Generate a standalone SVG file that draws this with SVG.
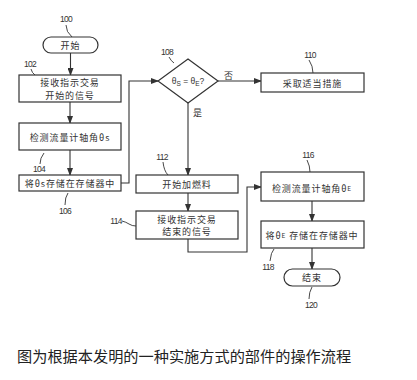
<svg xmlns="http://www.w3.org/2000/svg" width="417" height="380" viewBox="0 0 417 380">
<style>
.b{fill:#fff;stroke:#333;stroke-width:1.2}
.c{fill:none;stroke:#333;stroke-width:1.1}
.l{fill:none;stroke:#333;stroke-width:0.9}
.t{font-family:"Noto Sans CJK SC","Liberation Sans",sans-serif;font-size:9px;letter-spacing:0.9px;fill:#333;text-anchor:middle;dominant-baseline:central}
.n{font-family:"Liberation Sans",sans-serif;font-size:8.5px;letter-spacing:-0.7px;fill:#333;text-anchor:middle;dominant-baseline:central}
.cap{font-family:"Noto Sans CJK SC",sans-serif;font-size:15.2px;fill:#222;dominant-baseline:central}
</style>
<defs>
<marker id="a" markerWidth="8" markerHeight="6" refX="7" refY="3" orient="auto" markerUnits="userSpaceOnUse">
<path d="M0,0 L8,3 L0,6 z" fill="#333"/>
</marker>
</defs>
<rect width="417" height="380" fill="#fff"/>
<g id="connectors">
<path class="c" d="M70.5,53 V75" marker-end="url(#a)"/>
<path class="c" d="M70,102 V123" marker-end="url(#a)"/>
<path class="c" d="M70,150 V175" marker-end="url(#a)"/>
<path class="c" d="M121,183 H129 V81 H158" marker-end="url(#a)"/>
<path class="c" d="M218,81 H261" marker-end="url(#a)"/>
<path class="c" d="M188,103 V175" marker-end="url(#a)"/>
<path class="c" d="M188,193 V211" marker-end="url(#a)"/>
<path class="c" d="M188,239 V252 H247 V187 H261" marker-end="url(#a)"/>
<path class="c" d="M312,201 V221" marker-end="url(#a)"/>
<path class="c" d="M312,248 V269" marker-end="url(#a)"/>
<text class="t" x="229" y="75">否</text>
<text class="t" x="198" y="112">是</text>
</g>
<g id="n100">
<rect class="b" x="43" y="37" width="55" height="16" rx="8"/>
<text class="t" x="70.5" y="45">开始</text>
<text class="n" x="66" y="19">100</text>
<path class="l" d="M66,25 Q66,32 72,37"/>
</g>
<g id="n102">
<rect class="b" x="19" y="75" width="102" height="27"/>
<text class="t" x="70" y="82">接收指示交易</text>
<text class="t" x="70" y="95">开始的信号</text>
<text class="n" x="30" y="64">102</text>
<path class="l" d="M31,69 Q32,73 35,75"/>
</g>
<g id="n104">
<rect class="b" x="19" y="123" width="102" height="27"/>
<text class="t" x="70" y="137">检测流量计轴角θs</text>
<text class="n" x="39" y="169">104</text>
<path class="l" d="M40,164 Q40,158 44,153"/>
</g>
<g id="n106">
<rect class="b" x="19" y="175" width="102" height="16"/>
<text class="t" x="70" y="183">将θs存储在存储器中</text>
<text class="n" x="65" y="211">106</text>
<path class="l" d="M65,205 Q65,197 68,193"/>
</g>
<g id="n108">
<polygon class="b" points="188,59 218,81 188,103 158,81"/>
<text class="n" x="188" y="81" style="letter-spacing:0">θ<tspan font-size="6.5" dy="2">S</tspan><tspan dy="-2"> = θ</tspan><tspan font-size="6.5" dy="2">E</tspan><tspan dy="-2">?</tspan></text>
<text class="n" x="167" y="52">108</text>
<path class="l" d="M169,57 Q171,61 174,63"/>
</g>
<g id="n110">
<rect class="b" x="261" y="73" width="103" height="19"/>
<text class="t" x="312.5" y="83">采取适当措施</text>
<text class="n" x="310" y="55">110</text>
<path class="l" d="M309,60 Q313,66 313,73"/>
</g>
<g id="n112">
<rect class="b" x="136" y="175" width="102" height="18"/>
<text class="t" x="187" y="184">开始加燃料</text>
<text class="n" x="162" y="157">112</text>
<path class="l" d="M163,162 Q164,171 168,175"/>
</g>
<g id="n114">
<rect class="b" x="136" y="211" width="102" height="28"/>
<text class="t" x="187" y="219">接收指示交易</text>
<text class="t" x="187" y="231">结束的信号</text>
<text class="n" x="116" y="221">114</text>
<path class="l" d="M122,221 Q126,222 129,224 Q132,226 136,226"/>
</g>
<g id="n116">
<rect class="b" x="261" y="172" width="103" height="29"/>
<text class="t" x="312" y="188">检测流量计轴角θ<tspan font-size="6.5">E</tspan></text>
<text class="n" x="308" y="155">116</text>
<path class="l" d="M307,160 Q310,166 310,172"/>
</g>
<g id="n118">
<rect class="b" x="261" y="221" width="103" height="27"/>
<text class="t" x="312" y="235">将θ<tspan font-size="6.5">E</tspan> 存储在存储器中</text>
<text class="n" x="268" y="267">118</text>
<path class="l" d="M270,261 Q271,252 274,249"/>
</g>
<g id="n120">
<rect class="b" x="284" y="269" width="56" height="17" rx="8.5"/>
<text class="t" x="312" y="277.5">结束</text>
<text class="n" x="311" y="305">120</text>
<path class="l" d="M309,299 Q309,292 312,287"/>
</g>
<text class="cap" x="17" y="355">图为根据本发明的一种实施方式的部件的操作流程</text>
</svg>
